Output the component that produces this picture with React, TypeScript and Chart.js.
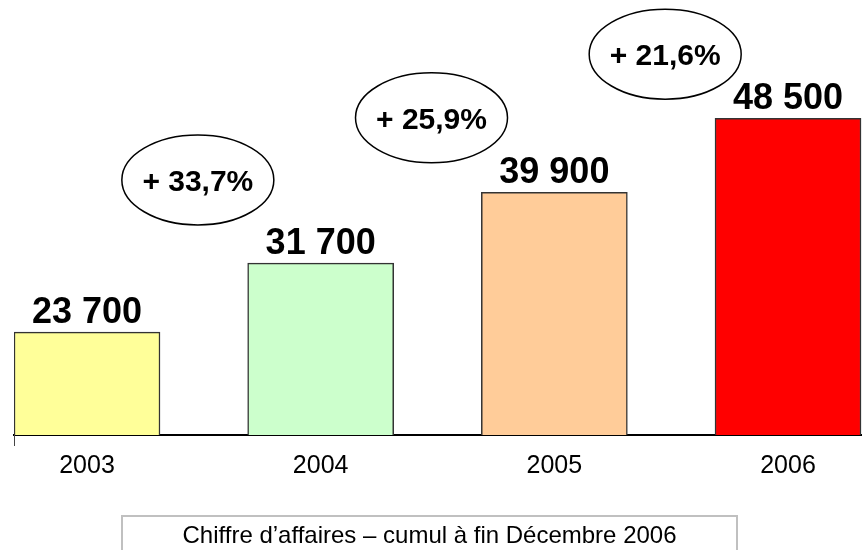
import React, { useEffect, useRef } from "react";
import { Chart, registerables } from "chart.js";

Chart.register(...registerables);

const years = [2003, 2004, 2005, 2006];
const revenue = [23700, 31700, 39900, 48500];
const growth = [33.7, 25.9, 21.6];
const barColors = ["#FFFF99", "#CCFFCC", "#FFCC99", "#FF0000"];
const caption = "Chiffre d\u2019affaires \u2013 cumul \u00e0 fin D\u00e9cembre 2006";

const FONT = "'Liberation Sans', Arial, Helvetica, sans-serif";

const fmtThousands = (v: number) => String(v).replace(/\B(?=(\d{3})+(?!\d))/g, " ");
const fmtGrowth = (g: number) => "+ " + g.toFixed(1).replace(".", ",") + "%";

const annotate = {
  id: "annotate",
  afterDatasetsDraw(chart: any) {
    const ctx = chart.ctx as CanvasRenderingContext2D;
    const xs = chart.scales.x;
    const ys = chart.scales.y;
    ctx.save();
    ctx.fillStyle = "#000";
    ctx.textAlign = "center";
    ctx.textBaseline = "alphabetic";

    // value labels above bars
    ctx.font = `bold 36px ${FONT}`;
    years.forEach((yr, i) => {
      const px = xs.getPixelForValue(yr);
      const py = ys.getPixelForValue(revenue[i]);
      ctx.fillText(fmtThousands(revenue[i]), px, py - 9.5);
    });

    // growth ellipses, placed between consecutive bars
    ctx.font = `bold 30px ${FONT}`;
    growth.forEach((g, i) => {
      const cx = xs.getPixelForValue((years[i] + years[i + 1]) / 2) - 6;
      const cy = 0.9 * ys.getPixelForValue(revenue[i]) - 119;
      ctx.beginPath();
      ctx.ellipse(cx, cy, 76, 45, 0, 0, Math.PI * 2);
      ctx.lineWidth = 1.5;
      ctx.strokeStyle = "#000";
      ctx.stroke();
      ctx.fillText(fmtGrowth(g), cx, cy + 10.7);
    });

    // small tick at the left end of the axis
    ctx.beginPath();
    ctx.strokeStyle = "#444";
    ctx.lineWidth = 1;
    ctx.moveTo(xs.left + 0.5, chart.chartArea.bottom);
    ctx.lineTo(xs.left + 0.5, chart.chartArea.bottom + 11);
    ctx.stroke();

    // caption box
    ctx.strokeStyle = "#C0C0C0";
    ctx.lineWidth = 2;
    ctx.strokeRect(122, 516, 615, 60);
    ctx.font = `24px ${FONT}`;
    ctx.fillStyle = "#000";
    ctx.fillText(caption, 429.5, 543);
    ctx.restore();
  },
};

export default function App() {
  const ref = useRef<HTMLCanvasElement>(null);
  useEffect(() => {
    const chart = new Chart(ref.current as HTMLCanvasElement, {
      type: "bar",
      data: {
        datasets: [
          {
            data: years.map((yr, i) => ({ x: yr, y: revenue[i] })),
            backgroundColor: barColors,
            borderColor: "#333",
            borderWidth: 1.5,
            barThickness: 146,
          } as any,
        ],
      },
      options: {
        responsive: false,
        animation: false,
        layout: { padding: { left: 14, right: 0, top: 0, bottom: 0 } },
        plugins: { legend: { display: false }, tooltip: { enabled: false } },
        scales: {
          x: {
            type: "linear",
            offset: false,
            bounds: "data",
            min: 2002.6876,
            max: 2006.3166,
            afterBuildTicks: (s: any) => {
              s.ticks = years.map((v) => ({ value: v }));
            },
            afterFit: (s: any) => {
              s.height = 115;
            },
            grid: { display: false, drawTicks: false, offset: false },
            border: { display: true, color: "#000", width: 2 },
            ticks: {
              color: "#000",
              font: { family: FONT, size: 25 },
              padding: 16,
              autoSkip: false,
              maxRotation: 0,
              callback: (v: any) => String(v),
            },
          },
          y: { display: false, min: 11770, max: 62217 },
        },
      },
      plugins: [annotate],
    });
    return () => chart.destroy();
  }, []);
  return (
    <div style={{ position: "absolute", left: 0, top: 0, width: 862, height: 550, background: "#fff" }}>
      <canvas ref={ref} width={862} height={550} style={{ display: "block" }} />
    </div>
  );
}
